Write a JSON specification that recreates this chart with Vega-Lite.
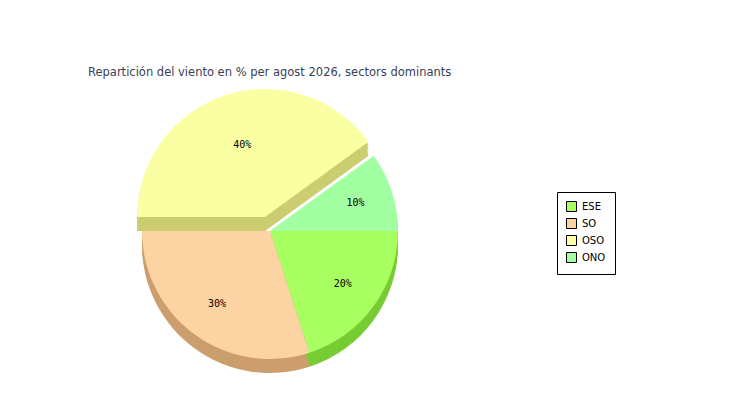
{
  "$schema": "https://vega.github.io/schema/vega-lite/v6.json",
  "width": 750,
  "height": 400,
  "autosize": "none",
  "padding": 0,
  "background": "white",
  "config": {"view": {"stroke": null}},
  "title": {
    "text": "Repartición del viento en % per agost 2026, sectors dominants",
    "anchor": "start",
    "frame": "group",
    "dx": 88,
    "dy": 87,
    "offset": 0,
    "baseline": "alphabetic",
    "font": "DejaVu Sans",
    "fontSize": 11.5,
    "fontWeight": "normal",
    "color": "#3a4055"
  },
  "data": {
    "values": [
      {"dir": "ESE", "pct": 20, "ord": 1, "label": "20%"},
      {"dir": "SO", "pct": 30, "ord": 2, "label": "30%"},
      {"dir": "OSO", "pct": 40, "ord": 3, "label": "40%"},
      {"dir": "ONO", "pct": 10, "ord": 4, "label": "10%"}
    ]
  },
  "transform": [
    {"stack": "pct", "groupby": [], "sort": [{"field": "ord", "order": "ascending"}], "as": ["p0", "p1"]}
  ],
  "resolve": {"scale": {"color": "independent"}},
  "layer": [
    {
      "encoding": {
        "theta": {"field": "p0", "type": "quantitative", "scale": {"domain": [0, 100], "range": [1.5708, 7.854]}},
        "theta2": {"field": "p1"},
        "color": {
          "field": "dir", "type": "nominal", "legend": null,
          "scale": {"domain": ["ESE", "SO", "OSO", "ONO"], "range": ["#77cc33", "#cc9e6e", "#cccc70", "#80cc80"]}
        }
      },
      "layer": [
        {"transform": [{"filter": "datum.dir != 'OSO'"}], "mark": {"type": "arc", "radius": 128, "xOffset": -105, "yOffset": 34}},
        {"transform": [{"filter": "datum.dir != 'OSO'"}], "mark": {"type": "arc", "radius": 128, "xOffset": -105, "yOffset": 37}},
        {"transform": [{"filter": "datum.dir != 'OSO'"}], "mark": {"type": "arc", "radius": 128, "xOffset": -105, "yOffset": 40}},
        {"transform": [{"filter": "datum.dir != 'OSO'"}], "mark": {"type": "arc", "radius": 128, "xOffset": -105, "yOffset": 43}},
        {"transform": [{"filter": "datum.dir != 'OSO'"}], "mark": {"type": "arc", "radius": 128, "xOffset": -105, "yOffset": 45}},
        {"transform": [{"filter": "datum.dir == 'OSO'"}], "mark": {"type": "arc", "radius": 128, "xOffset": -110, "yOffset": 20}},
        {"transform": [{"filter": "datum.dir == 'OSO'"}], "mark": {"type": "arc", "radius": 128, "xOffset": -110, "yOffset": 23}},
        {"transform": [{"filter": "datum.dir == 'OSO'"}], "mark": {"type": "arc", "radius": 128, "xOffset": -110, "yOffset": 26}},
        {"transform": [{"filter": "datum.dir == 'OSO'"}], "mark": {"type": "arc", "radius": 128, "xOffset": -110, "yOffset": 29}},
        {"transform": [{"filter": "datum.dir == 'OSO'"}], "mark": {"type": "arc", "radius": 128, "xOffset": -110, "yOffset": 31}}
      ]
    },
    {
      "encoding": {
        "theta": {"field": "p0", "type": "quantitative", "scale": {"domain": [0, 100], "range": [1.5708, 7.854]}},
        "theta2": {"field": "p1"},
        "color": {
          "field": "dir", "type": "nominal",
          "scale": {"domain": ["ESE", "SO", "OSO", "ONO"], "range": ["#a8ff60", "#fcd3a3", "#faffa3", "#a2ffa2"]},
          "legend": {
            "title": null,
            "orient": "none",
            "legendX": 557,
            "legendY": 192,
            "strokeColor": "black",
            "fillColor": "white",
            "padding": 9,
            "cornerRadius": 0,
            "symbolType": "square",
            "symbolSize": 100,
            "symbolStrokeColor": "black",
            "symbolStrokeWidth": 1,
            "symbolOpacity": 1,
            "labelFont": "DejaVu Sans",
            "labelFontSize": 10,
            "labelColor": "black",
            "labelOffset": 5,
            "rowPadding": 2
          }
        }
      },
      "layer": [
        {"transform": [{"filter": "datum.dir != 'OSO'"}], "mark": {"type": "arc", "radius": 128, "xOffset": -105, "yOffset": 31}},
        {"transform": [{"filter": "datum.dir == 'OSO'"}], "mark": {"type": "arc", "radius": 128, "xOffset": -110, "yOffset": 17}}
      ]
    },
    {
      "mark": {"type": "text", "radius": 90, "xOffset": -105, "yOffset": 31, "font": "DejaVu Sans Mono", "fontSize": 10, "color": "black"},
      "encoding": {
        "theta": {"field": "pct", "type": "quantitative", "stack": true, "scale": {"domain": [0, 100], "range": [1.5708, 7.854]}},
        "order": {"field": "ord", "type": "quantitative"},
        "text": {"field": "label", "type": "nominal"}
      }
    }
  ]
}
